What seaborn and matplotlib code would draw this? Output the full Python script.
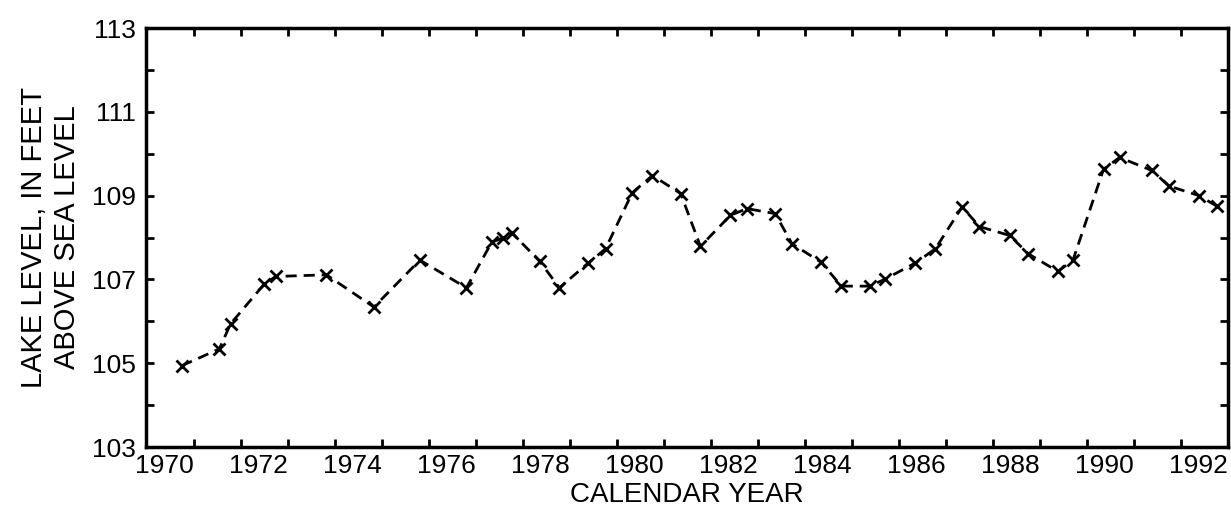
import numpy as np
import pandas as pd
import seaborn as sns
import matplotlib.pyplot as plt
from matplotlib.ticker import FixedLocator

# lake level readings (decimal year, feet above sea level)
years = [1970.36, 1971.16, 1971.40, 1972.11, 1972.36, 1973.44, 1974.45, 1975.43,
         1976.42, 1976.96, 1977.20, 1977.39, 1977.98, 1978.40, 1979.01, 1979.38,
         1979.95, 1980.38, 1980.98, 1981.40, 1982.04, 1982.39, 1982.99, 1983.35,
         1983.97, 1984.40, 1985.00, 1985.32, 1985.97, 1986.40, 1986.97, 1987.34,
         1987.98, 1988.38, 1989.01, 1989.33, 1989.98, 1990.32, 1991.01, 1991.37,
         1992.01, 1992.39]
levels = [104.94, 105.34, 105.94, 106.88, 107.07, 107.11, 106.34, 107.46,
          106.80, 107.89, 107.99, 108.11, 107.43, 106.80, 107.39, 107.73,
          109.07, 109.48, 109.05, 107.79, 108.53, 108.69, 108.57, 107.85,
          107.41, 106.84, 106.84, 107.00, 107.39, 107.73, 108.73, 108.26,
          108.05, 107.61, 107.19, 107.46, 109.63, 109.91, 109.60, 109.23,
          109.00, 108.75]

year_labels = list(range(1970, 1993, 2))
level_labels = list(range(103, 114, 2))

df = pd.DataFrame({"year": years, "level": levels})

sns.set_style("ticks")
plt.rcParams['font.family'] = ['Liberation Sans', 'DejaVu Sans']
plt.rcParams['text.color'] = 'black'
plt.rcParams['axes.labelcolor'] = 'black'
plt.rcParams['xtick.color'] = 'black'
plt.rcParams['ytick.color'] = 'black'

fig = plt.figure(figsize=(12.31, 5.16), dpi=100)
ax = fig.add_axes([0.1186, 0.1337, 0.8790, 0.8120])

sns.lineplot(data=df, x="year", y="level", ax=ax, color="black",
             linestyle=(0, (4, 2.5)), linewidth=2,
             marker="x", markersize=9, markeredgewidth=2,
             markeredgecolor="black")

ax.set_xlim(1969.6, 1992.63)
ax.set_ylim(103, 113)

# labels on even years, tick marks every year (offset as in the original)
ax.set_xticks(year_labels)
ax.set_xticklabels([str(y) for y in year_labels])
ax.tick_params(axis="x", which="major", length=0, pad=5, labelsize=19)
ax.xaxis.set_minor_locator(FixedLocator(np.arange(1970.62, 1992.6, 1)))
ax.tick_params(axis="x", which="minor", direction="in", length=6, width=2,
               top=True, bottom=True)

ax.set_yticks(level_labels)
ax.yaxis.set_minor_locator(FixedLocator(np.arange(104, 113, 2)))
ax.tick_params(axis="y", which="both", direction="in", length=6, width=2,
               left=True, right=True, labelsize=19, pad=7)

for s in ax.spines.values():
    s.set_linewidth(2.5)
    s.set_color("black")

ax.set_xlabel("CALENDAR YEAR", fontsize=20, labelpad=3)
ax.set_ylabel("LAKE LEVEL, IN FEET\nABOVE SEA LEVEL", fontsize=21,
              labelpad=8, linespacing=1.25)

plt.savefig("out.png", dpi=100)
